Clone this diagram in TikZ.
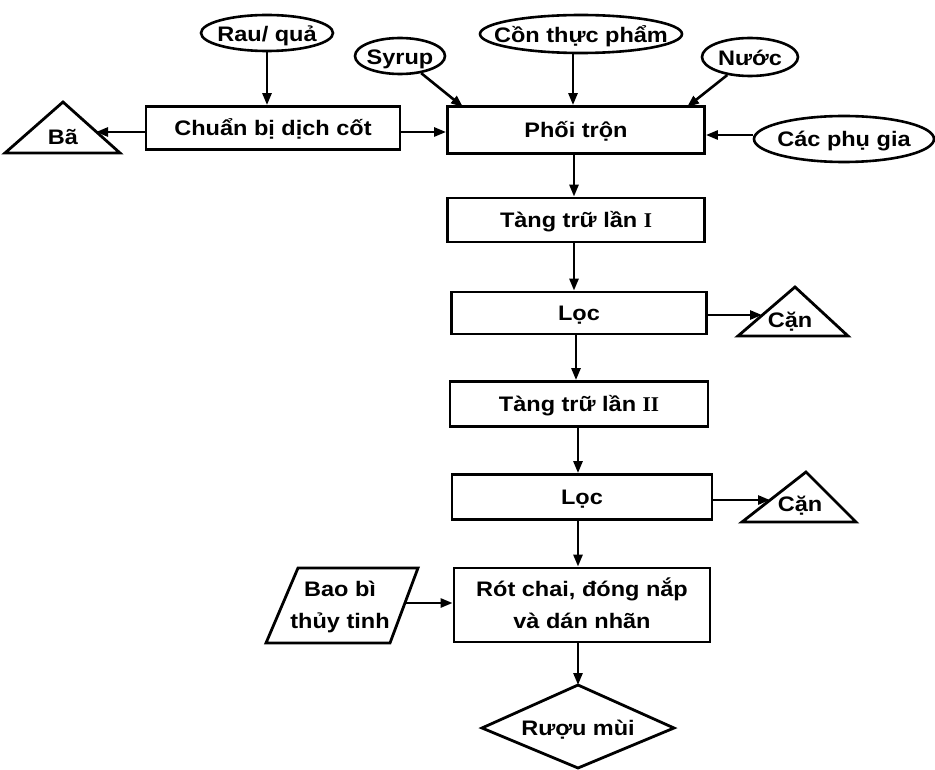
\documentclass[tikz,border=0pt]{standalone}
\usepackage{fontspec}
\setmainfont{Liberation Sans}[FakeStretch=1.12]
\newfontfamily\romnum{Liberation Serif}
\usetikzlibrary{arrows.meta,shapes.geometric}
\begin{document}
\begin{tikzpicture}[x=1pt,y=-1pt,
  every node/.style={font=\fontsize{21}{32}\selectfont\bfseries},
  txt/.style={text height=15pt,text depth=0pt},
  box/.style={draw,rectangle,line width=2.8pt,inner sep=0pt,align=center,txt},
  oval/.style={draw,ellipse,line width=2.6pt,inner sep=0pt},
  shp/.style={draw,line width=2.8pt,line join=miter},
  arr/.style={line width=2.6pt,-{Triangle[length=12pt,width=9pt]}},
  lbl/.style={inner sep=0pt,align=center,txt},
  lbl2/.style={inner sep=0pt,align=center,text height=47pt,text depth=0pt}]
\useasboundingbox (0,0) rectangle (935,770);
% ellipses
\node[oval,minimum width=132pt,minimum height=36pt] (rau) at (267,33) {};
\node[lbl] (raut) at ([yshift=-1pt]rau.center) {Rau/ quả};
\node[oval,minimum width=90pt,minimum height=36pt] (syrup) at (400,56) {};
\node[lbl] (syrupt) at ([yshift=-1pt]syrup.center) {Syrup};
\node[oval,minimum width=202pt,minimum height=38pt] (con) at (581,34) {};
\node[lbl] (cont) at ([yshift=-1pt]con.center) {Cồn thực phẩm};
\node[oval,minimum width=96pt,minimum height=38pt] (nuoc) at (750,57) {};
\node[lbl] (nuoct) at ([yshift=-1pt]nuoc.center) {Nước};
\node[oval,minimum width=180pt,minimum height=46pt] (phugia) at (844,139) {};
\node[lbl] (phugiat) at (phugia) {Các phụ gia};
% boxes
\node[box,minimum width=254pt,minimum height=43pt] (chuanbi) at (273,128) {Chuẩn bị dịch cốt};
\node[box,minimum width=257pt,minimum height=47pt] (phoi) at (576,130) {Phối trộn};
\node[box,minimum width=257pt,minimum height=44pt] (tang1) at (576,220) {Tàng trữ lần {\romnum I}};
\node[box,minimum width=255pt,minimum height=42pt] (loc1) at (579,313) {Lọc};
\node[box,minimum width=258pt,minimum height=45pt] (tang2) at (579,404) {Tàng trữ lần {\romnum II}};
\node[box,minimum width=260pt,minimum height=45pt] (loc2) at (582,497) {Lọc};
\node[draw,rectangle,line width=2.8pt,minimum width=256pt,minimum height=74pt] (rot) at (582,605) {};
\node[lbl2] (rott) at (rot) {Rót chai, đóng nắp\\và dán nhãn};
% triangles
\draw[shp] (5,153) -- (63,102) -- (120,153) -- cycle;
\node[lbl] (ba) at (63,137) {Bã};
\draw[shp] (738,336) -- (795,287) -- (848,336) -- cycle;
\node[lbl] (can1) at (790,320) {Cặn};
\draw[shp] (742,522) -- (806,472) -- (856,522) -- cycle;
\node[lbl] (can2) at (800,504) {Cặn};
% parallelogram
\draw[shp] (298,568) -- (418,568) -- (390,643) -- (266,643) -- cycle;
\node[lbl2] (baobi) at (340,605) {Bao bì\\thủy tinh};
% diamond
\draw[shp] (578,685) -- (674,728) -- (578,768) -- (482,728) -- cycle;
\node[lbl] (ruou) at (578,728) {Rượu mùi};
% connector end points
\coordinate (baR) at (96,132);
\coordinate (can1L) at (762,315);
\coordinate (can2L) at (770,500);
\coordinate (baobiR) at (405,603);
\coordinate (diaTop) at (578,685);
\coordinate (syrupE) at (463,107);
\coordinate (nuocE) at (687,107);
% connectors
\draw[arr] (rau.south) -- (rau.south |- chuanbi.north);
\draw[arr] (chuanbi.west |- baR) -- (baR);
\draw[arr] (chuanbi.east |- 0,132) -- (phoi.west |- 0,132);
\draw[arr] (syrup) -- (syrupE);
\draw[arr] (con.south -| 573,0) -- (phoi.north -| 573,0);
\draw[arr] (nuoc) -- (nuocE);
\draw[arr] (phugia.west |- 0,135) -- (phoi.east |- 0,135);
\draw[arr] (phoi.south -| 574,0) -- (tang1.north -| 574,0);
\draw[arr] (tang1.south -| 574,0) -- (loc1.north -| 574,0);
\draw[arr] (loc1.east |- can1L) -- (can1L);
\draw[arr] (loc1.south -| 576,0) -- (tang2.north -| 576,0);
\draw[arr] (tang2.south -| 578,0) -- (loc2.north -| 578,0);
\draw[arr] (loc2.east |- can2L) -- (can2L);
\draw[arr] (loc2.south -| 578,0) -- (rot.north -| 578,0);
\draw[arr] (baobiR) -- (rot.west |- baobiR);
\draw[arr] (rot.south -| 578,0) -- (diaTop);
\end{tikzpicture}
\end{document}
